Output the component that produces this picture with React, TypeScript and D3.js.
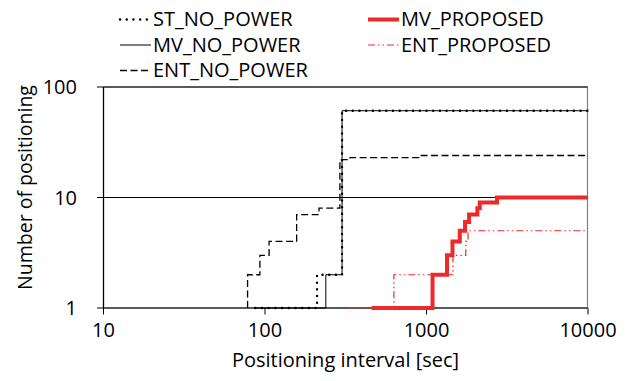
import React from 'react'
import * as d3 from 'd3'

// step data: interval [sec] where the count changes, and the new count
const stNoPowerX = [87, 210, 300, 10000]
const stNoPowerY = [1, 2, 61, 61]
const mvNoPowerX = [87, 238, 300, 10000]
const mvNoPowerY = [1, 2, 61, 61]
const entNoPowerX = [78, 78, 93, 106, 157, 216, 291, 336, 896, 10000]
const entNoPowerY = [1, 2, 3, 4, 7, 8, 22, 23, 24, 24]
const mvProposedX = [457, 1090, 1340, 1448, 1607, 1733, 1835, 2066, 2137, 2734, 10000]
const mvProposedY = [1, 2, 3, 4, 5, 6, 7, 8, 9, 10, 10]
const entProposedX = [320, 628, 1459, 1750, 1808, 10000]
const entProposedY = [1, 2, 3, 4, 5, 5]

const xTicks = [10, 100, 1000, 10000]
const yTicks = [1, 10, 100]

const RED = '#ec2a2a'
const FONT = "'Open Sans', sans-serif"

const styles = {
  ST_NO_POWER: { stroke: '#000', width: 2.4, dash: '0.1,6.6', cap: 'round' },
  MV_NO_POWER: { stroke: '#000', width: 1, dash: null, cap: 'butt' },
  ENT_NO_POWER: { stroke: '#000', width: 1.3, dash: '7,3.5', cap: 'butt' },
  MV_PROPOSED: { stroke: RED, width: 4, dash: null, cap: 'butt' },
  ENT_PROPOSED: { stroke: RED, width: 1.2, dash: '7,3,1.5,3,1.5,3', cap: 'butt' },
}

const series = [
  { name: 'ENT_NO_POWER', xs: entNoPowerX, ys: entNoPowerY },
  { name: 'MV_NO_POWER', xs: mvNoPowerX, ys: mvNoPowerY },
  { name: 'ST_NO_POWER', xs: stNoPowerX, ys: stNoPowerY },
  { name: 'ENT_PROPOSED', xs: entProposedX, ys: entProposedY },
  { name: 'MV_PROPOSED', xs: mvProposedX, ys: mvProposedY },
]

// legend: two columns, same order as the original
const legendCols = [
  ['ST_NO_POWER', 'MV_NO_POWER', 'ENT_NO_POWER'],
  ['MV_PROPOSED', 'ENT_PROPOSED'],
]

function Txt({ x, y, size, anchor = 'start', rotate = 0, children }: any) {
  return (
    <text
      transform={`translate(${x},${y}) rotate(${rotate})`}
      fontFamily={FONT}
      fontSize={size}
      textAnchor={anchor}
      fill="#000"
    >
      {children}
    </text>
  )
}

export default function App() {
  const width = 628
  const height = 381
  const left = 103.5
  const right = 588
  const top = 87
  const bottom = 308

  const x = d3.scaleLog().domain([10, 10000]).range([left, right])
  const y = d3.scaleLog().domain([1, 100]).range([bottom, top])

  const line = d3
    .line<[number, number]>()
    .x(d => x(d[0]))
    .y(d => y(d[1]))
    .curve(d3.curveStepAfter)

  const legendX = [120, 368]
  const legendRows = [26, 51.5, 77]

  return (
    <svg
      width={width}
      height={height}
      style={{ position: 'absolute', left: 0, top: 0, background: '#fff' }}
    >
      {/* plot area border */}
      <rect x={left} y={top} width={right - left - 0.5} height={bottom - top} fill="none" stroke="#7f7f7f" strokeWidth={1.2} />

      {/* horizontal gridlines */}
      {yTicks.map(t => (
        <line key={t} x1={left} x2={right - 0.5} y1={y(t)} y2={y(t)} stroke="#000" strokeWidth={1} />
      ))}

      {/* axes */}
      <line x1={left} x2={left} y1={top} y2={bottom} stroke="#000" strokeWidth={1.2} />
      {yTicks.map(t => (
        <line key={'yt' + t} x1={left - 6.5} x2={left} y1={y(t)} y2={y(t)} stroke="#000" />
      ))}
      {xTicks.map(t => (
        <line key={'xt' + t} x1={x(t)} x2={x(t)} y1={bottom} y2={bottom + 6.5} stroke="#000" />
      ))}

      {/* series */}
      {series.map(s => {
        const st = (styles as any)[s.name]
        const pts = s.xs.map((v, i) => [v, s.ys[i]] as [number, number])
        return (
          <path
            key={s.name}
            d={line(pts) || ''}
            fill="none"
            stroke={st.stroke}
            strokeWidth={st.width}
            strokeDasharray={st.dash || undefined}
            strokeLinecap={st.cap}
          />
        )
      })}

      {/* tick labels */}
      {yTicks.map(t => (
        <Txt key={'yl' + t} x={77} y={y(t) + 7} size={20} anchor="end">
          {t}
        </Txt>
      ))}
      {xTicks.map(t => (
        <Txt key={'xl' + t} x={x(t)} y={337} size={20} anchor="middle">
          {t}
        </Txt>
      ))}

      {/* axis titles */}
      <Txt x={345.5} y={367} size={20} anchor="middle">
        Positioning interval [sec]
      </Txt>
      <Txt x={32} y={187.5} size={19.5} anchor="middle" rotate={-90}>
        Number of positioning
      </Txt>

      {/* legend */}
      {legendCols.map((col, ci) =>
        col.map((name, ri) => {
          const st = (styles as any)[name]
          const ly = legendRows[ri]
          return (
            <g key={name}>
              <line
                x1={legendX[ci]}
                x2={legendX[ci] + 31}
                y1={ly - 6.5}
                y2={ly - 6.5}
                stroke={st.stroke}
                strokeWidth={st.width}
                strokeDasharray={st.dash || undefined}
                strokeLinecap={st.cap}
              />
              <Txt x={legendX[ci] + 33} y={ly} size={20}>
                {name}
              </Txt>
            </g>
          )
        })
      )}
    </svg>
  )
}
